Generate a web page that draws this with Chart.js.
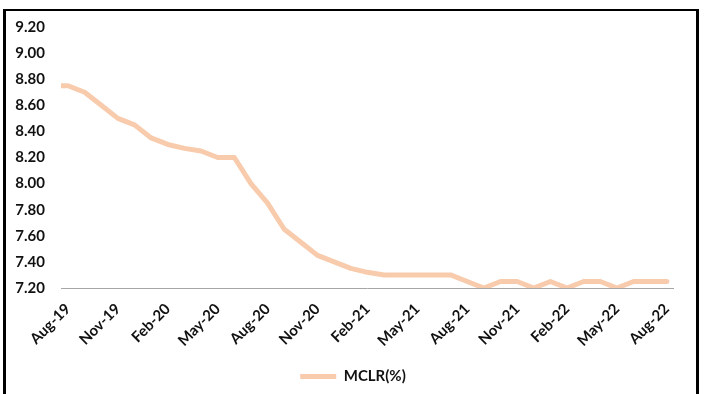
<!DOCTYPE html>
<html>
<head>
<meta charset="utf-8">
<script src="https://cdn.jsdelivr.net/npm/chart.js@4/dist/chart.umd.min.js"></script>
<style>
  html, body { margin: 0; padding: 0; background: #fff; overflow: hidden; }
  #wrap { position: relative; width: 706px; height: 394px; }
  #frame { position: absolute; left: 3px; top: 9px; width: 696px; height: 420px; box-sizing: border-box;
           border-top: 2px solid #000; border-left: 3px solid #000; border-right: 3px solid #000; pointer-events: none; }
  canvas { position: absolute; left: 0; top: 0; }
</style>
</head>
<body>
<div id="wrap">
  <canvas id="c" width="706" height="394"></canvas>
  <div id="frame"></div>
</div>
<script>
// Month labels (Aug-19 .. Aug-22)
const months = ['Aug-19','Sep-19','Oct-19','Nov-19','Dec-19','Jan-20','Feb-20','Mar-20','Apr-20','May-20','Jun-20','Jul-20',
  'Aug-20','Sep-20','Oct-20','Nov-20','Dec-20','Jan-21','Feb-21','Mar-21','Apr-21','May-21','Jun-21','Jul-21',
  'Aug-21','Sep-21','Oct-21','Nov-21','Dec-21','Jan-22','Feb-22','Mar-22','Apr-22','May-22','Jun-22','Jul-22','Aug-22'];
// MCLR (%) monthly readings
const mclr = [8.75, 8.70, 8.60, 8.50, 8.45, 8.35, 8.30, 8.27, 8.25, 8.20, 8.20, 8.00,
  7.85, 7.65, 7.55, 7.45, 7.40, 7.35, 7.32, 7.30, 7.30, 7.30, 7.30, 7.30,
  7.25, 7.20, 7.25, 7.25, 7.20, 7.25, 7.20, 7.25, 7.25, 7.20, 7.25, 7.25, 7.25];
// earlier reading just before Aug-19 (month offset, value)
const leadOffset = -0.4;
const leadValue = 8.75;
// labelled months (every 3rd)
const tickMonths = [0, 3, 6, 9, 12, 15, 18, 21, 24, 27, 30, 33, 36];
const yTicks = [7.2, 7.4, 7.6, 7.8, 8.0, 8.2, 8.4, 8.6, 8.8, 9.0, 9.2];

const points = [{x: leadOffset, y: leadValue}].concat(mclr.map((v, i) => ({x: i, y: v})));
const FONT = 'Lato, "Open Sans", sans-serif';

// centre the legend on the whole canvas rather than on the padded area
const legendCenter = {
  id: 'legendCenter',
  afterLayout(chart) {
    const lg = chart.legend;
    if (!lg) return;
    const shift = chart.width / 2 - (lg.left + lg.right) / 2;
    lg.left += shift;
    lg.right += shift;
  }
};

new Chart(document.getElementById('c'), {
  type: 'line',
  data: {
    datasets: [{
      label: 'MCLR(%)',
      data: points,
      borderColor: '#F8CBAD',
      backgroundColor: '#F8CBAD',
      borderWidth: 5,
      pointRadius: 0,
      pointHoverRadius: 0,
      tension: 0,
      borderCapStyle: 'round',
      borderJoinStyle: 'round',
      pointStyle: 'line'
    }]
  },
  plugins: [legendCenter],
  options: {
    responsive: false,
    animation: false,
    events: [],
    layout: { padding: { left: 15, top: 27, right: 33, bottom: 0 } },
    plugins: {
      tooltip: { enabled: false },
      legend: {
        position: 'bottom',
        labels: {
          usePointStyle: true,
          pointStyleWidth: 36,
          padding: 10,
          color: '#111',
          font: { family: FONT, size: 15, weight: 'bold' }
        }
      }
    },
    scales: {
      x: {
        type: 'linear',
        min: -0.42,
        max: 36.37,
        afterBuildTicks: (s) => { s.ticks = tickMonths.map(v => ({ value: v })); },
        afterFit: (s) => { s.height = 71; },
        grid: { display: false, drawTicks: false },
        border: { display: true, color: '#A6A6A6', width: 1 },
        ticks: {
          autoSkip: false,
          minRotation: 45,
          maxRotation: 45,
          padding: 12,
          color: '#111',
          font: { family: FONT, size: 15, weight: 'bold' },
          callback: (v) => months[v] ?? ''
        }
      },
      y: {
        min: 7.2,
        max: 9.2,
        afterBuildTicks: (s) => { s.ticks = yTicks.map(v => ({ value: v })); },
        afterFit: (s) => { s.width = 46; },
        grid: { display: false, drawTicks: false },
        border: { display: false },
        ticks: {
          padding: 16,
          color: '#111',
          font: { family: FONT, size: 15, weight: 'bold' },
          callback: (v) => Number(v).toFixed(2)
        }
      }
    }
  }
});
</script>
</body>
</html>
